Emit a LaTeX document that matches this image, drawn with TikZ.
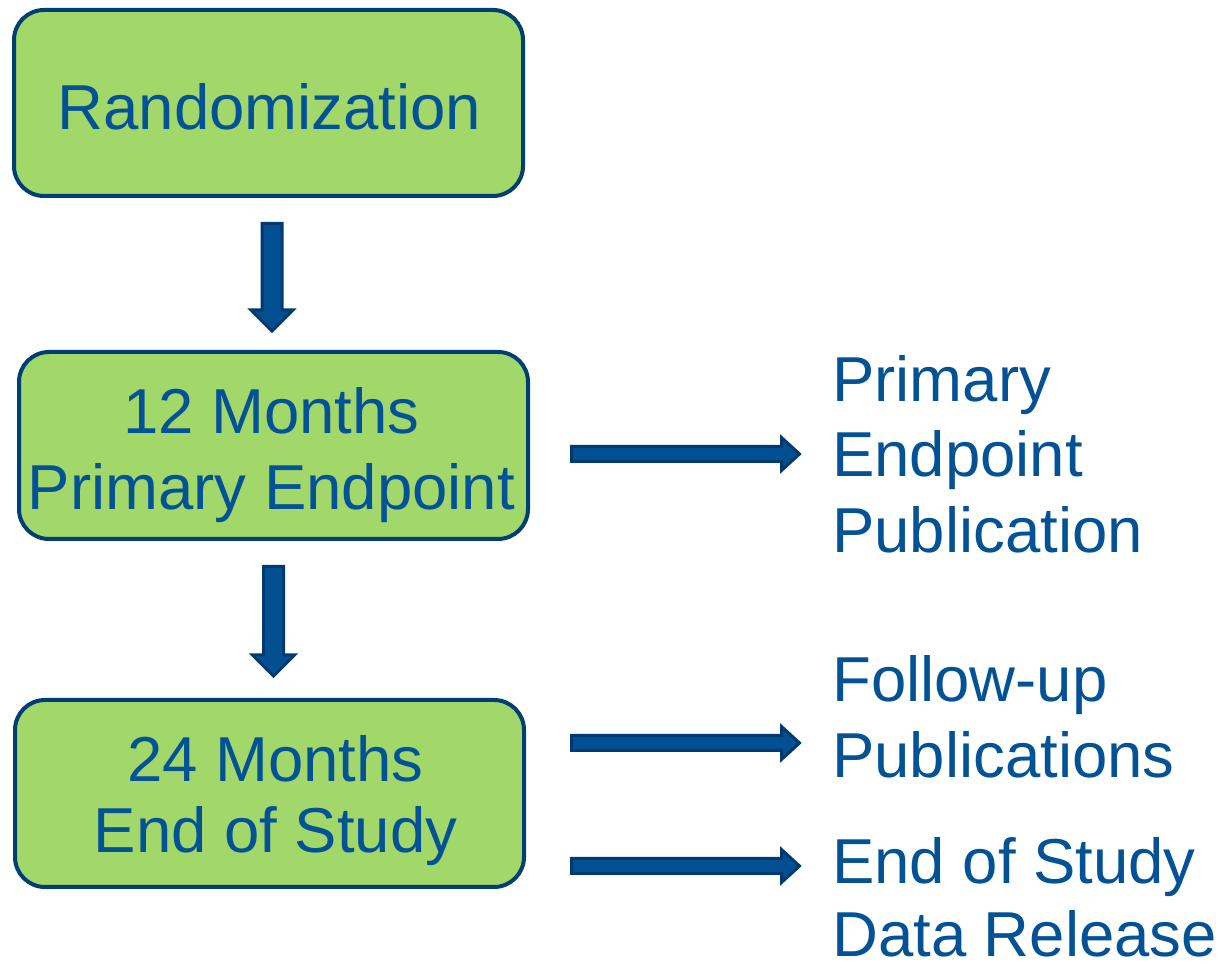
\documentclass[tikz,border=0pt]{standalone}
\usepackage{fontspec}
\setmainfont{Liberation Sans}
\usetikzlibrary{calc}
\definecolor{boxgreen}{RGB}{162,216,106}
\definecolor{boxline}{RGB}{0,62,116}
\definecolor{txtblue}{RGB}{4,82,150}
\definecolor{arrfill}{RGB}{2,80,146}
\definecolor{arrline}{RGB}{0,58,112}
\tikzset{
  stagebox/.style={draw=boxline, line width=4pt, fill=boxgreen, rounded corners=30pt,
    minimum width=509pt, inner sep=0pt},
  boxtext/.style={text=txtblue, inner sep=0pt, align=center, anchor=north},
  sidetext/.style={text=txtblue, inner sep=0pt, align=left, anchor=north west},
  blockarrow/.style={fill=arrfill, draw=arrline, line width=3pt, line join=miter},
}
\newcommand\downblock[2]{%
  \filldraw[blockarrow] let \p1=(#1), \p2=(#2) in
    (\x1-10pt,\y1) -- (\x1-10pt,\y2+21pt) -- (\x1-21pt,\y2+21pt) -- (\x1,\y2)
    -- (\x1+21pt,\y2+21pt) -- (\x1+10pt,\y2+21pt) -- (\x1+10pt,\y1) -- cycle;}
\newcommand\rightblock[2]{%
  \filldraw[blockarrow] let \p1=(#1), \p2=(#2) in
    (\x1,\y1-7.5pt) -- (\x2-18pt,\y1-7.5pt) -- (\x2-18pt,\y1-16.5pt) -- (\x2,\y1)
    -- (\x2-18pt,\y1+16.5pt) -- (\x2-18pt,\y1+7.5pt) -- (\x1,\y1+7.5pt) -- cycle;}
\begin{document}
\begin{tikzpicture}[x=1pt,y=1pt]
\useasboundingbox (0,0) rectangle (1224,963);
% stage boxes
\node[stagebox, minimum height=186pt] (b1) at (268.5,860) {};
\node[stagebox, minimum height=187pt] (b2) at (273.5,517.5) {};
\node[stagebox, minimum height=187pt] (b3) at (269.5,169.5) {};
% box texts
\node[boxtext, font=\fontsize{63.5}{76}\selectfont] (r1) at (269.5,880) {Randomization};
\node[boxtext, font=\fontsize{63.5}{76}\selectfont] (r2) at (271.5,576) {12 Months\\Primary Endpoint};
\node[boxtext, font=\fontsize{63.5}{71}\selectfont] (r3) at (275.5,228) {24 Months\\End of Study};
% side texts
\node[sidetext, font=\fontsize{63.5}{75.5}\selectfont] (t1) at (832,608) {Primary\\Endpoint\\Publication};
\node[sidetext, font=\fontsize{63.5}{76}\selectfont] (t2) at (832,308) {Follow-up\\Publications};
\node[sidetext, font=\fontsize{63.5}{73}\selectfont] (t3) at (832,126) {End of Study\\Data Release};
% arrow end points
\coordinate (d1s) at ($(b1.south)+(3.5,-25.5)$);
\coordinate (d1e) at ($(b2.north)+(-1.5,19)$);
\coordinate (d2s) at ($(b2.south)+(0,-25.5)$);
\coordinate (d2e) at ($(b3.north)+(4,22)$);
\coordinate (h1s) at ($(b2.east)+(41.5,-8.5)$);
\coordinate (h1e) at ($(b2.east)+(269.5,-8.5)$);
\coordinate (h2s) at ($(b3.east)+(45.5,50.5)$);
\coordinate (h2e) at ($(b3.east)+(273.5,50.5)$);
\coordinate (h3s) at ($(b3.east)+(45.5,-72.5)$);
\coordinate (h3e) at ($(b3.east)+(273.5,-72.5)$);
% block arrows
\downblock{d1s}{d1e}
\downblock{d2s}{d2e}
\rightblock{h1s}{h1e}
\rightblock{h2s}{h2e}
\rightblock{h3s}{h3e}
\end{tikzpicture}
\end{document}
